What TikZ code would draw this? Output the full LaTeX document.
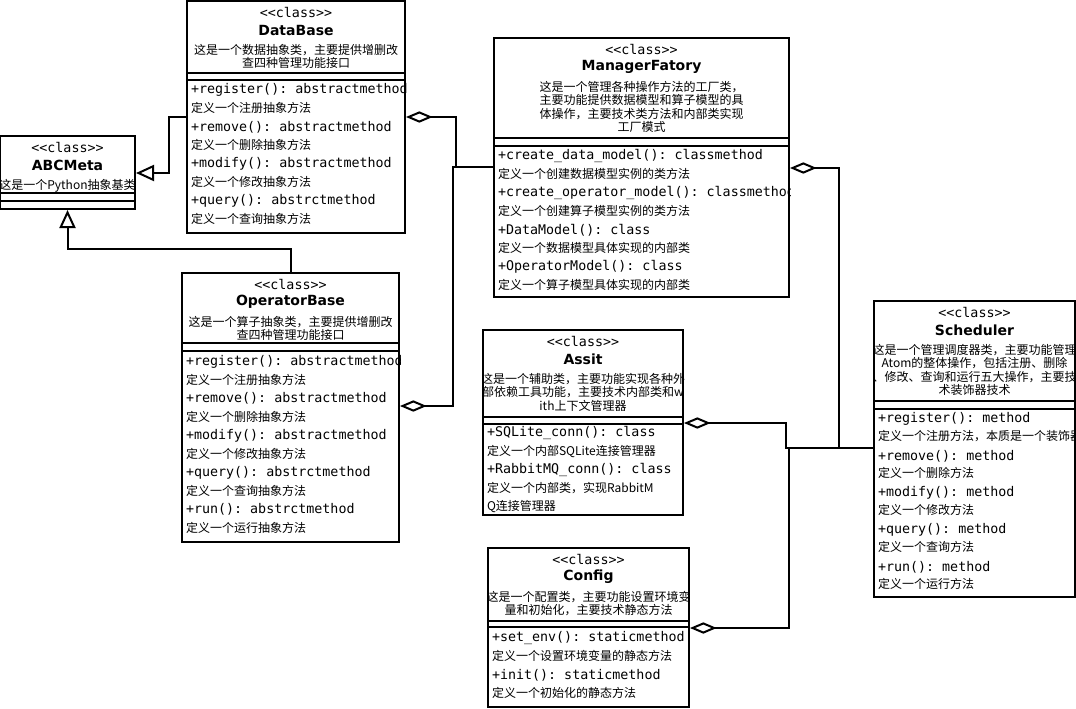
\documentclass[tikz,border=0pt]{standalone}
\usepackage{fontspec}
\setmonofont{DejaVu Sans Mono}
\newfontfamily\cjk{Noto Sans CJK SC}
\newfontfamily\titlefont{DejaVu Sans}
\usepackage{tikz}
\usetikzlibrary{arrows.meta, positioning, fit, calc}

\begin{document}
\begin{tikzpicture}[
    x=0.75pt, y=-0.75pt, line width=1.5pt,
    classbox/.style={rectangle, draw, inner sep=0pt, fit={#1}},
    stereo/.style={font=\ttfamily\fontsize{10}{12}\selectfont, inner sep=0pt},
    cname/.style={font=\titlefont\bfseries\fontsize{10.5}{12}\selectfont, inner sep=0pt},
    cdesc/.style={font=\cjk\fontsize{9}{10.1}\selectfont, align=center, anchor=north, inner sep=0pt},
    member/.style={font=\ttfamily\fontsize{10}{12}\selectfont, anchor=west, inner sep=0pt},
    mdesc/.style={font=\cjk\fontsize{9}{13}\selectfont, align=left, anchor=north west, inner sep=0pt},
    inh/.style={-{Triangle[open, length=13.5pt, width=12pt]}},
    agg/.style={-{Diamond[open, length=20pt, width=8.5pt]}}
]
\fill[white] (0,0) rectangle (1076,708);
\useasboundingbox (0,0) rectangle (1076,708);

% class boxes
\node[classbox={(0,136) (135,209)}] (ABCMeta) {};
\node[classbox={(187,1) (405,233)}] (DataBase) {};
\node[classbox={(182,273) (399,542)}] (OperatorBase) {};
\node[classbox={(494,38) (789,297)}] (ManagerFatory) {};
\node[classbox={(483,330) (683,515)}] (Assit) {};
\node[classbox={(488,548) (689,707)}] (Config) {};
\node[classbox={(874,301) (1075,597)}] (Scheduler) {};

% headers and separators
\foreach \cls/\ttl/\dsc/\sa/\sb in {
    ABCMeta/ABCMeta/{这是一个Python抽象基类}/193/201,
    DataBase/DataBase/{这是一个数据抽象类，主要提供增删改\\查四种管理功能接口}/73/80,
    OperatorBase/OperatorBase/{这是一个算子抽象类，主要提供增删改\\查四种管理功能接口}/343/351,
    ManagerFatory/ManagerFatory/{这是一个管理各种操作方法的工厂类，\\主要功能提供数据模型和算子模型的具\\体操作，主要技术类方法和内部类实现\\工厂模式}/138/146,
    Assit/Assit/{这是一个辅助类，主要功能实现各种外\\部依赖工具功能，主要技术内部类和w\\ith上下文管理器}/417/423.5,
    Config/Config/{这是一个配置类，主要功能设置环境变\\量和初始化，主要技术静态方法}/621/627,
    Scheduler/Scheduler/{这是一个管理调度器类，主要功能管理\\Atom的整体操作，包括注册、删除\\、修改、查询和运行五大操作，主要技\\术装饰器技术}/401/409}{
  \draw (\cls.west |- 0,\sa) -- (\cls.east |- 0,\sa) (\cls.west |- 0,\sb) -- (\cls.east |- 0,\sb);
  \begin{scope}
    \clip (\cls.south west) rectangle (\cls.north east);
    \node[stereo] (\cls-st) at ($(\cls.north)+(0,12)$) {<<class>>};
    \node[cname] (\cls-nm) at ($(\cls.north)+(0,30)$) {\ttl};
    \node[cdesc] (\cls-ds) at ($(\cls.north)+(0,43)$) {\dsc};
  \end{scope}
}

% DataBase members
\begin{scope}
  \clip (DataBase.south west) rectangle (DataBase.north east);
  \foreach \mb/\md [count=\i from 0] in {
      {+register(): abstractmethod}/{定义一个注册抽象方法},
      {+remove(): abstractmethod}/{定义一个删除抽象方法},
      {+modify(): abstractmethod}/{定义一个修改抽象方法},
      {+query(): abstrctmethod}/{定义一个查询抽象方法}}{
    \node[member] (DataBase-m\i) at (190,{90+37*\i}) {\mb};
    \node[mdesc] (DataBase-d\i) at (190,{101.5+37*\i}) {\md};
  }
\end{scope}

% OperatorBase members
\begin{scope}
  \clip (OperatorBase.south west) rectangle (OperatorBase.north east);
  \foreach \mb/\md [count=\i from 0] in {
      {+register(): abstractmethod}/{定义一个注册抽象方法},
      {+remove(): abstractmethod}/{定义一个删除抽象方法},
      {+modify(): abstractmethod}/{定义一个修改抽象方法},
      {+query(): abstrctmethod}/{定义一个查询抽象方法},
      {+run(): abstrctmethod}/{定义一个运行抽象方法}}{
    \node[member] (OperatorBase-m\i) at (185,{361.5+37*\i}) {\mb};
    \node[mdesc] (OperatorBase-d\i) at (185,{373+37*\i}) {\md};
  }
\end{scope}

% ManagerFatory members
\begin{scope}
  \clip (ManagerFatory.south west) rectangle (ManagerFatory.north east);
  \foreach \mb/\md [count=\i from 0] in {
      {+create\_data\_model(): classmethod}/{定义一个创建数据模型实例的类方法},
      {+create\_operator\_model(): classmethod}/{定义一个创建算子模型实例的类方法},
      {+DataModel(): class}/{定义一个数据模型具体实现的内部类},
      {+OperatorModel(): class}/{定义一个算子模型具体实现的内部类}}{
    \node[member] (ManagerFatory-m\i) at (497,{156+37*\i}) {\mb};
    \node[mdesc] (ManagerFatory-d\i) at (497,{167.5+37*\i}) {\md};
  }
\end{scope}

% Assit members
\begin{scope}
  \clip (Assit.south west) rectangle (Assit.north east);
  \foreach \mb/\md [count=\i from 0] in {
      {+SQLite\_conn(): class}/{定义一个内部SQLite连接管理器},
      {+RabbitMQ\_conn(): class}/{定义一个内部类，实现RabbitM\\Q连接管理器}}{
    \node[member] (Assit-m\i) at (486,{433+37*\i}) {\mb};
    \node[mdesc] (Assit-d\i) at (486,{444.5+37*\i}) {\md};
  }
\end{scope}

% Config members
\begin{scope}
  \clip (Config.south west) rectangle (Config.north east);
  \foreach \mb/\md [count=\i from 0] in {
      {+set\_env(): staticmethod}/{定义一个设置环境变量的静态方法},
      {+init(): staticmethod}/{定义一个初始化的静态方法}}{
    \node[member] (Config-m\i) at (491,{638+37*\i}) {\mb};
    \node[mdesc] (Config-d\i) at (491,{649.5+37*\i}) {\md};
  }
\end{scope}

% Scheduler members
\begin{scope}
  \clip (Scheduler.south west) rectangle (Scheduler.north east);
  \foreach \mb/\md [count=\i from 0] in {
      {+register(): method}/{定义一个注册方法，本质是一个装饰器},
      {+remove(): method}/{定义一个删除方法},
      {+modify(): method}/{定义一个修改方法},
      {+query(): method}/{定义一个查询方法},
      {+run(): method}/{定义一个运行方法}}{
    \node[member] (Scheduler-m\i) at (877,{419+37*\i}) {\mb};
    \node[mdesc] (Scheduler-d\i) at (877,{429.5+37*\i}) {\md};
  }
\end{scope}

% inheritance
\draw[inh] (DataBase.west |- 0,117) -| (169,173) -- (ABCMeta.east |- 0,173);
\draw[inh] (OperatorBase.north) |- (ABCMeta.south |- 0,249) -- (ABCMeta.south);

% aggregation
\draw[agg] (ManagerFatory.west |- 0,167) -| (456,117) -- (DataBase.east |- 0,117);
\draw[agg] (ManagerFatory.west |- 0,167) -| (453,406) -- (OperatorBase.east |- 0,406);
\draw[agg] (Scheduler.west |- 0,448) -| (839,168) -- (ManagerFatory.east |- 0,168);
\draw[agg] (Scheduler.west |- 0,448) -| (786,423) -- (Assit.east |- 0,423);
\draw[agg] (Scheduler.west |- 0,448) -| (789,628) -- (Config.east |- 0,628);
\end{tikzpicture}
\end{document}
